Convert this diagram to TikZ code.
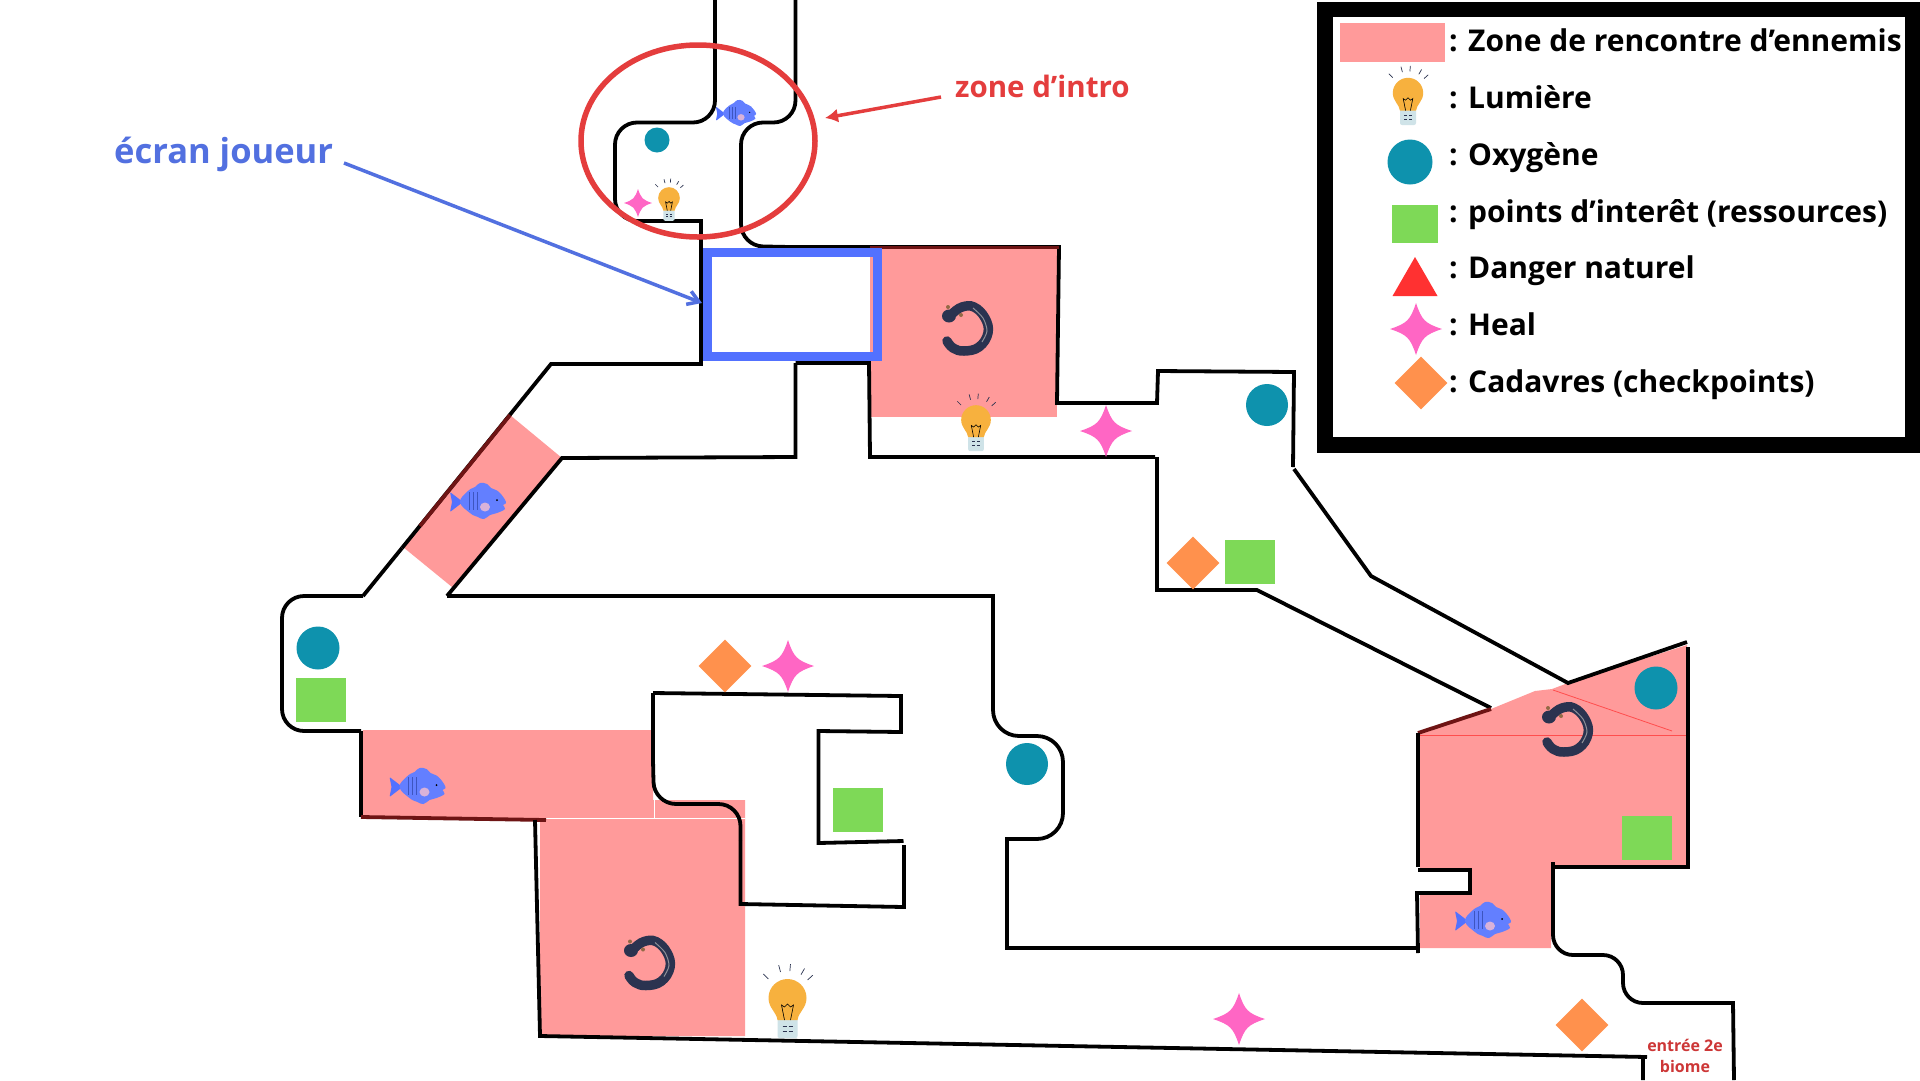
\documentclass[tikz,border=0pt]{standalone}
\usepackage{fontspec}
\setmainfont{Open Sans}
\usetikzlibrary{shapes.geometric,arrows.meta}

\definecolor{zonepink}{HTML}{FF9A9A}
\definecolor{playerblue}{HTML}{5271FF}
\definecolor{labelblue}{HTML}{5270E0}
\definecolor{introred}{HTML}{E43D3D}
\definecolor{oxyteal}{HTML}{0E92AD}
\definecolor{resgreen}{HTML}{7ED957}
\definecolor{dangerred}{HTML}{FF3131}
\definecolor{healpink}{HTML}{FF66C4}
\definecolor{corpseorange}{HTML}{FF914D}
\definecolor{bulbyellow}{HTML}{F7B13E}
\definecolor{bulbbase}{HTML}{CFE3E8}
\definecolor{newtnavy}{HTML}{2B3350}
\definecolor{darkwall}{HTML}{6E1414}

\tikzset{
  wall/.style={line width=3.8pt, black},
  darkedge/.style={line width=3.8pt, darkwall},
  seam/.style={line width=0.8pt, red!50!zonepink},
  oxygen/.style={circle, fill=oxyteal, inner sep=0pt, minimum size=#1},
  resource/.style={rectangle, fill=resgreen, inner sep=0pt, minimum width=50pt, minimum height=44pt},
  corpse/.style={diamond, fill=corpseorange, inner sep=0pt, minimum size=#1},
  legendtext/.style={anchor=base west, inner sep=0pt, font=\bfseries\fontsize{30}{30}\selectfont},
  pics/healstar/.style={code={
    \fill[healpink] (-1,0) .. controls (-0.34,-0.22) and (-0.22,-0.34) .. (0,-1)
      .. controls (0.22,-0.34) and (0.34,-0.22) .. (1,0)
      .. controls (0.34,0.22) and (0.22,0.34) .. (0,1)
      .. controls (-0.22,0.34) and (-0.34,0.22) .. (-1,0) -- cycle;
  }},
  pics/fish/.style={code={
    \fill[playerblue, rounded corners=1pt] (-15,1) -- (-28,-9) -- (-26,1) -- (-28,11) -- cycle;
    \fill[playerblue!90!white] plot[smooth cycle, tension=0.7] coordinates
      {(-18,1) (-10,-10) (-3,-14) (2,-18) (9,-17) (13,-13) (21,-9) (28,1) (25,4) (27,8) (19,12) (12,14) (6,18) (0,16) (-8,12)};
    \foreach \xpos in {-9,-5,-1}
      \draw[playerblue!75!black, line width=0.7pt] (\xpos,-9) -- (\xpos,9);
    \fill[violet!30!white] (7,6) ellipse (5 and 4.5);
    \fill[black] (19,-1) circle (1);
  }},
  pics/lamp/.style={code={
    \foreach \ang in {-135,-105,-85,-60,-42}
      \draw[newtnavy, line width=0.7pt] (\ang:27) -- (\ang:34);
    \fill[bulbbase, rounded corners=2pt] (-10,20) rectangle (10,40);
    \fill[bulbyellow] (-10,22) .. controls (-11,14) and (-19,10) .. (-19,0)
      .. controls (-19,-11) and (-10,-19) .. (0,-19)
      .. controls (10,-19) and (19,-11) .. (19,0)
      .. controls (19,10) and (11,14) .. (10,22) -- cycle;
    \draw[black, line width=0.6pt] (-3,22) -- (-6,7) -- (-3,9) -- (0,6) -- (3,9) -- (6,7) -- (3,22);
    \draw[newtnavy, line width=0.7pt] (-5,28) -- (-1,28) (1,28) -- (5,28) (-5,33) -- (-1,33) (1,33) -- (5,33);
  }},
  pics/newt/.style={code={
    \draw[newtnavy, line width=9.5pt, line cap=round] plot[smooth, tension=0.7] coordinates
      {(-15,-16) (-6,-22) (6,-22) (17,-11) (20,4) (11,18) (-4,22) (-15,19) (-21,12)};
    \draw[gray!60!newtnavy!70!white, line width=1pt] plot[smooth] coordinates {(5,-21) (15,-11) (19,2) (14,13)};
    \fill[newtnavy] (-19,-13) ellipse (7 and 6.5);
    \fill[brown!70!newtnavy] (-20,-22) circle (2) (-7,-14) circle (2);
  }},
}

\begin{document}
\begin{tikzpicture}[x=1pt, y=-1pt]
  \useasboundingbox (0,0) rectangle (1920,1080);
  \fill[white] (0,0) rectangle (1920,1080);

  % zones
  \fill[zonepink] (870,247) -- (1057,247) -- (1057,417) -- (870,417) -- cycle;
  \fill[zonepink] (510,415) -- (562,458) -- (452,587) -- (403,547) -- cycle;
  \fill[zonepink] (363,730) -- (653,730) -- (653,800) -- (745,800) -- (745,1036) -- (540,1036) -- (540,820) -- (361,817) -- cycle;
  \fill[zonepink] (1420,733) -- (1491,709) -- (1535,691) -- (1552,689) -- (1568,683) -- (1687,645)
    -- (1687,867) -- (1551,867) -- (1551,948) -- (1420,948) -- (1420,893) -- (1470,893) -- (1470,870) -- (1420,870) -- cycle;
  \draw[seam] (1420,735) -- (1686,735);
  \draw[seam] (1553,690) -- (1672,731);
  \draw[white, line width=0.7pt] (540,818) -- (745,818) (654,800) -- (654,818);

  % walls of the upper part
  \draw[wall, rounded corners=22pt] (715,0) -- (715,122.5) -- (615,122.5) -- (615,221) -- (650,221);
  \draw[wall] (650,221) -- (701,221) -- (701,364) -- (551,364) -- (402,548);
  \draw[darkedge] (510,415) -- (420,526);
  \draw[wall] (402,548) -- (363,596);
  \draw[wall, rounded corners=22pt] (795.5,0) -- (795.5,122.5) -- (741,122.5) -- (741,246) -- (790,247);
  \draw[wall] (790,247) -- (1059,247) -- (1057,403) -- (1157,403) -- (1158,371) -- (1294,372) -- (1293,467);
  \draw[darkedge] (870,247.5) -- (1059,247.5);
  \draw[wall] (1294,469) -- (1371,576) -- (1568,683) -- (1687,642);
  \draw[wall] (795.5,363) -- (869,363) -- (870,457) -- (1155,457);
  \draw[wall] (795.5,363) -- (795.5,457) -- (562,458) -- (447,596);
  \draw[wall] (1157,457) -- (1157,590) -- (1257,590) -- (1491,708);
  \draw[darkedge] (1418,733) -- (1491,709);

  % walls of the lower left part
  \draw[wall, rounded corners=22pt] (363,596) -- (282,596) -- (282,731) -- (361,731);
  \draw[wall] (361,731) -- (361,817);
  \draw[darkedge] (361,817) -- (546,820);
  \draw[wall] (535,820) -- (540,1036) -- (1647,1057) (1643,1057) -- (1643,1080);
  \draw[wall] (653,693) -- (901,696) -- (901,732) -- (818.5,731) -- (818.5,843) -- (903.5,841);
  \draw[wall] (904,845) -- (904,907) -- (740.5,904) -- (740.5,840);
  \draw[wall, rounded corners=22pt] (740.5,840) -- (740.5,804) -- (654,804) -- (653,760);
  \draw[wall] (653,760) -- (653,693);

  % walls of the middle and right part
  \draw[wall] (447,596) -- (993,596) -- (993,660);
  \draw[wall, rounded corners=26pt] (993,660) -- (993,736) -- (1063,736) -- (1063,839) -- (1030,839);
  \draw[wall] (1030,839) -- (1007,839) -- (1007,948) -- (1418,948);
  \draw[wall] (1418,953) -- (1417,893) -- (1470,893) -- (1470,870) -- (1418,870);
  \draw[wall] (1418,867) -- (1418,733);
  \draw[wall] (1688,647) -- (1688,867) -- (1553,867);
  \draw[wall] (1553,862) -- (1553,920);
  \draw[wall, rounded corners=20pt] (1553,920) -- (1553,955) -- (1623,955) -- (1623,1003) -- (1680,1003);
  \draw[wall] (1680,1003) -- (1733,1003) -- (1734,1080);

  % player screen
  \node[draw=playerblue, line width=9pt, inner sep=0pt, minimum width=170pt, minimum height=104pt] (screen) at (792.5,304.5) {};
  \node[anchor=base west, inner sep=0pt, text=labelblue, font=\bfseries\fontsize{34.5}{34.5}\selectfont] (screenlabel) at (114,163) {écran joueur};
  \coordinate (screenfrom) at (344,163);
  \coordinate (screentip) at (702,303);
  \draw[labelblue, line width=3.5pt, -{Straight Barb[length=11pt,width=14pt]}] (screenfrom) -- (screentip);

  % intro zone
  \node[ellipse, draw=introred, line width=5.5pt, inner sep=0pt, minimum width=234pt, minimum height=192pt] (intro) at (698,141) {};
  \node[anchor=base west, inner sep=0pt, text=introred, font=\bfseries\fontsize{29.5}{29.5}\selectfont] (introlabel) at (955,97) {zone d’intro};
  \coordinate (introfrom) at (941,97);
  \draw[introred, line width=3.5pt, -{Latex[length=13pt,width=14pt]}] (introfrom) -- (825,118);

  \node[align=center, inner sep=0pt, text=introred!90!black, font=\bfseries\fontsize{16}{21}\selectfont] (biome) at (1685,1056) {entrée 2e\\biome};

  % items on the map
  \foreach \xpos/\ypos/\diam in {657/140/25, 1267/405/42, 318/648/43, 1027/764/42, 1656/688/43}
    \node[oxygen=\diam pt] at (\xpos,\ypos) {};
  \foreach \xpos/\ypos in {321/700, 858/810, 1647/838, 1250/562}
    \node[resource] at (\xpos,\ypos) {};
  \foreach \xpos/\ypos in {725/666, 1582/1025, 1193/563}
    \node[corpse=53pt] at (\xpos,\ypos) {};
  \foreach \xpos/\ypos/\size in {638/203/14, 1106/431/26, 788/666/26, 1239/1019/26}
    \pic[scale=\size] at (\xpos,\ypos) {healstar};
  \foreach \xpos/\ypos/\size in {736/113/0.72, 478/501/1, 417.5/786/1, 1483/920/1}
    \pic[scale=\size] at (\xpos,\ypos) {fish};
  \foreach \xpos/\ypos/\size in {669/198/0.57, 976/420/0.78, 787.5/998/1}
    \pic[scale=\size] at (\xpos,\ypos) {lamp};
  \foreach \xpos/\ypos in {968/329, 650/963.5, 1568/730}
    \pic at (\xpos,\ypos) {newt};

  % legend
  \fill[black] (1317,2) rectangle (1920,453);
  \fill[white] (1333,17) rectangle (1905,437);
  \fill[zonepink] (1340,23) rectangle (1445,62);
  \pic[scale=0.8] at (1408,93) {lamp};
  \node[oxygen=45pt] (legoxygen) at (1410,162) {};
  \node[rectangle, fill=resgreen, inner sep=0pt, minimum width=45.5pt, minimum height=38pt] (legres) at (1415,224) {};
  \fill[dangerred] (1415,257) -- (1437.5,296) -- (1392.5,296) -- cycle;
  \pic[scale=26] at (1416,329) {healstar};
  \node[corpse=53pt] (legcorpse) at (1421,383) {};

  \node[legendtext] (legzone) at (1449,51) {: Zone de rencontre d’ennemis};
  \node[legendtext] (leglamp) at (1449,108) {: Lumière};
  \node[legendtext] (legoxy) at (1449,165) {: Oxygène};
  \node[legendtext] (legpoi) at (1449,222) {: points d’interêt (ressources)};
  \node[legendtext] (legdanger) at (1449,278) {: Danger naturel};
  \node[legendtext] (legheal) at (1449,335) {: Heal};
  \node[legendtext] (legcada) at (1449,392) {: Cadavres (checkpoints)};
\end{tikzpicture}
\end{document}
